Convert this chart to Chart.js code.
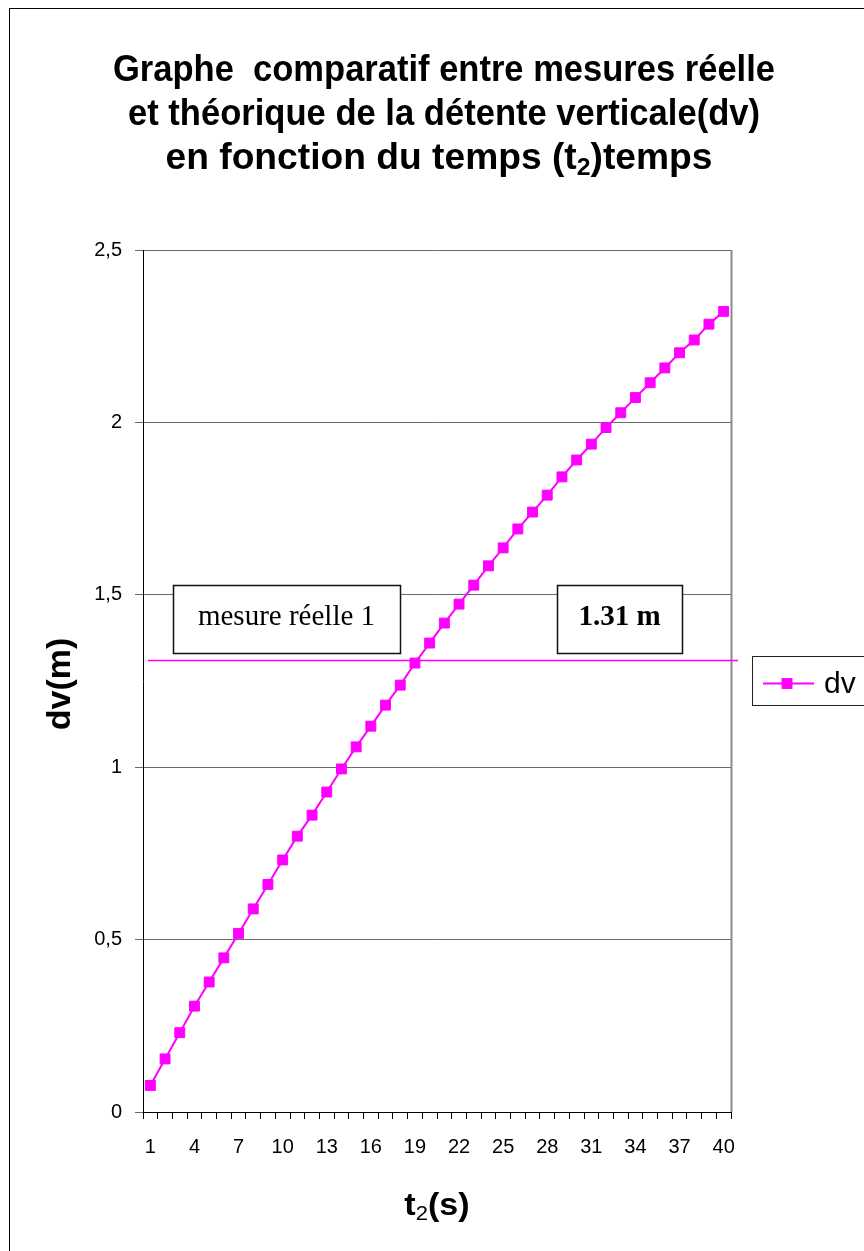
<!DOCTYPE html>
<html lang="fr">
<head>
<meta charset="utf-8">
<title>Détente verticale en fonction du temps</title>
<script src="https://cdn.jsdelivr.net/npm/chart.js@4/dist/chart.umd.min.js"></script>
<style>
  html, body { margin: 0; padding: 0; background: #ffffff; }
  #wrap { position: relative; width: 864px; height: 1251px; overflow: hidden; }
  canvas { display: block; }
</style>
</head>
<body>
<div id="wrap"><canvas id="c" width="864" height="1251"></canvas></div>
<script>
// Temps t2 (s)
const temps = [1, 2, 3, 4, 5, 6, 7, 8, 9, 10,
               11, 12, 13, 14, 15, 16, 17, 18, 19, 20,
               21, 22, 23, 24, 25, 26, 27, 28, 29, 30,
               31, 32, 33, 34, 35, 36, 37, 38, 39, 40];

// Détente verticale théorique dv (m)
const dv = [0.077, 0.154, 0.230, 0.307, 0.377, 0.447, 0.518, 0.589, 0.660, 0.731,
            0.800, 0.861, 0.928, 0.995, 1.059, 1.119, 1.180, 1.238, 1.302, 1.360,
            1.418, 1.473, 1.528, 1.584, 1.636, 1.691, 1.740, 1.789, 1.842, 1.891,
            1.937, 1.985, 2.028, 2.072, 2.115, 2.158, 2.202, 2.239, 2.285, 2.322];

// Graduations de l'axe dv
const yTicks = [0, 0.5, 1, 1.5, 2, 2.5];

// Mesure réelle relevée (m)
const mesureReelle = [1.31];
const mesureNoms = ['mesure réelle 1'];

// Titre : segments alternés texte normal / indice
const titreLignes = [
  ['Graphe  comparatif entre mesures réelle'],
  ['et théorique de la détente verticale(dv)'],
  ['en fonction du temps (t', '2', ')temps']
];
// largeur et centre de chaque ligne du titre (px)
const titreLargeurs = [662, 632, 547];
const titreCentres = [444, 444, 439];

const titreAxeX = ['t', '2', '(s)'];
const titreAxeY = 'dv(m)';

const SANS = '"Liberation Sans", Arial, Helvetica, sans-serif';
const SERIF = '"Liberation Serif", "Times New Roman", Times, serif';
const MAGENTA = '#FF00FF';

// Texte centré composé de segments, les segments impairs en indice.
// Si width est donné, le texte est ajusté horizontalement à cette largeur.
function drawRuns(ctx, segs, cx, baseline, size, bold, sx, subBold, width) {
  const runs = segs.map((t, i) => {
    const sub = i % 2 === 1;
    const s = sub ? Math.round(size * 0.66) : size;
    const w = (sub ? (subBold ? 'bold ' : '') : (bold ? 'bold ' : ''));
    return { text: t, font: w + s + 'px ' + SANS, dy: sub ? size * 0.17 : 0 };
  });
  let total = 0;
  runs.forEach(r => { ctx.font = r.font; r.w = ctx.measureText(r.text).width; total += r.w; });
  const scaleX = width ? width / total : sx;
  ctx.save();
  ctx.translate(cx, baseline);
  ctx.scale(scaleX, 1);
  ctx.fillStyle = '#000';
  ctx.textAlign = 'left';
  ctx.textBaseline = 'alphabetic';
  let x = -total / 2;
  runs.forEach(r => { ctx.font = r.font; ctx.fillText(r.text, x, r.dy); x += r.w; });
  ctx.restore();
}

function textBox(ctx, x0, y0, x1, y1, text, font, baseline) {
  ctx.save();
  ctx.fillStyle = '#fff';
  ctx.fillRect(x0, y0, x1 - x0, y1 - y0);
  ctx.strokeStyle = '#111';
  ctx.lineWidth = 1.5;
  ctx.strokeRect(x0 + 0.5, y0 + 0.5, x1 - x0, y1 - y0);
  ctx.fillStyle = '#000';
  ctx.font = font;
  ctx.textAlign = 'center';
  ctx.textBaseline = 'alphabetic';
  ctx.fillText(text, (x0 + x1) / 2, baseline);
  ctx.restore();
}

const decor = {
  id: 'decor',
  beforeDraw(chart) {
    const ctx = chart.ctx;
    ctx.save();
    ctx.fillStyle = '#fff';
    ctx.fillRect(0, 0, chart.width, chart.height);
    // cadre du graphique
    ctx.strokeStyle = '#000';
    ctx.lineWidth = 1;
    ctx.strokeRect(9.5, 8.5, 1000, 1400);
    ctx.restore();
  },
  beforeDatasetsDraw(chart) {
    const ctx = chart.ctx;
    const a = chart.chartArea;
    const y = chart.scales.y;
    ctx.save();
    // bordure droite de la zone de traçage
    ctx.strokeStyle = '#8a8a8a';
    ctx.lineWidth = 2;
    ctx.beginPath();
    ctx.moveTo(a.right + 0.5, a.top);
    ctx.lineTo(a.right + 0.5, a.bottom);
    ctx.stroke();

    // étiquettes de la mesure réelle
    const top = a.top + 335, bot = a.top + 403;
    textBox(ctx, a.left + 30, top, a.left + 257, bot, mesureNoms[0],
            '29px ' + SERIF, top + 40);
    textBox(ctx, a.left + 414, top, a.left + 539, bot, mesureReelle[0].toFixed(2) + ' m',
            'bold 29px ' + SERIF, top + 40);

    // ligne horizontale de la mesure réelle
    const py = Math.round(y.getPixelForValue(mesureReelle[0]));
    ctx.strokeStyle = MAGENTA;
    ctx.lineWidth = 1.6;
    ctx.beginPath();
    ctx.moveTo(a.left + 5, py + 0.5);
    ctx.lineTo(a.right + 7, py + 0.5);
    ctx.stroke();
    ctx.restore();
  },
  afterDraw(chart) {
    const ctx = chart.ctx;
    const a = chart.chartArea;
    const cx = (a.left + a.right) / 2;

    // titre
    titreLignes.forEach((segs, i) => {
      drawRuns(ctx, segs, titreCentres[i], 81 + i * 44, 36, true, 1, true, titreLargeurs[i]);
    });

    // titre de l'axe des abscisses
    drawRuns(ctx, titreAxeX, cx, 1215, 31, true, 1.1, false);

    // titre de l'axe des ordonnées
    ctx.save();
    ctx.translate(70, (a.top + a.bottom) / 2 + 3);
    ctx.rotate(-Math.PI / 2);
    ctx.fillStyle = '#000';
    ctx.font = 'bold 34px ' + SANS;
    ctx.textAlign = 'center';
    ctx.textBaseline = 'alphabetic';
    ctx.fillText(titreAxeY, 0, 0);
    ctx.restore();

    // légende
    const ds = chart.data.datasets[0];
    const lx = a.right + 21, ly = a.top + 406, lh = 49;
    ctx.save();
    ctx.fillStyle = '#fff';
    ctx.fillRect(lx, ly, 200, lh);
    ctx.strokeStyle = '#222';
    ctx.lineWidth = 1;
    ctx.strokeRect(lx + 0.5, ly + 0.5, 200, lh);
    const my = ly + 27.5;
    ctx.strokeStyle = ds.borderColor;
    ctx.lineWidth = ds.borderWidth;
    ctx.beginPath();
    ctx.moveTo(lx + 11, my);
    ctx.lineTo(lx + 62, my);
    ctx.stroke();
    const half = Math.SQRT1_2 * ds.pointRadius + ds.pointBorderWidth / 2;
    ctx.fillStyle = ds.backgroundColor;
    ctx.fillRect(lx + 35 - half, my - half, half * 2, half * 2);
    ctx.fillStyle = '#000';
    ctx.font = '30px ' + SANS;
    ctx.textAlign = 'left';
    ctx.textBaseline = 'middle';
    ctx.fillText(ds.label, lx + 72, my + 1);
    ctx.restore();
  }
};

new Chart(document.getElementById('c'), {
  type: 'line',
  data: {
    labels: temps.map(String),
    datasets: [{
      label: 'dv',
      data: dv,
      borderColor: MAGENTA,
      backgroundColor: MAGENTA,
      borderWidth: 2,
      pointStyle: 'rect',
      pointRadius: 7,
      pointBorderWidth: 1,
      pointBorderColor: MAGENTA,
      pointBackgroundColor: MAGENTA,
      pointHoverRadius: 7,
      tension: 0,
      fill: false
    }]
  },
  options: {
    responsive: false,
    animation: false,
    events: [],
    layout: { padding: { left: 0, top: 250, right: 133, bottom: 0 } },
    plugins: {
      legend: { display: false },
      title: { display: false },
      tooltip: { enabled: false }
    },
    scales: {
      x: {
        type: 'category',
        offset: true,
        grid: { offset: true, drawOnChartArea: false, drawTicks: true, tickLength: 7, color: '#000', lineWidth: 1 },
        border: { display: true, color: '#000', width: 1 },
        ticks: {
          autoSkip: false, maxRotation: 0, minRotation: 0, padding: 16,
          color: '#000', font: { family: SANS, size: 20 },
          callback: (v, i) => (i % 3 === 0 ? String(temps[i]) : '')
        },
        afterFit: s => { s.height = 139; }
      },
      y: {
        min: yTicks[0],
        max: yTicks[yTicks.length - 1],
        afterBuildTicks: s => { s.ticks = yTicks.map(v => ({ value: v })); },
        grid: { color: '#6a6a6a', lineWidth: 1, drawTicks: true, tickLength: 8 },
        border: { display: true, color: '#000', width: 1 },
        ticks: {
          padding: 13, color: '#000', font: { family: SANS, size: 20 },
          callback: v => String(v).replace('.', ',')
        },
        afterFit: s => { s.width = 143; }
      }
    }
  },
  plugins: [decor]
});
</script>
</body>
</html>
